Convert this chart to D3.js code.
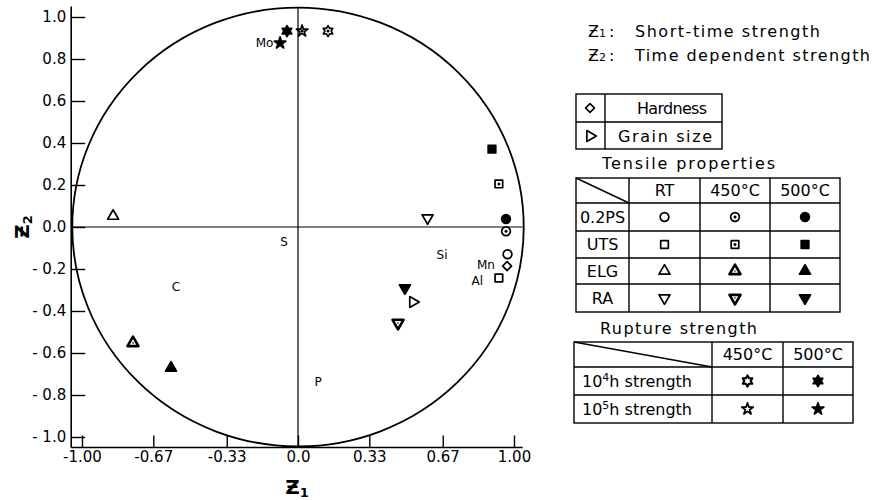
<!DOCTYPE html>
<html>
<head>
<meta charset="utf-8">
<script src="https://cdn.jsdelivr.net/npm/d3@7"></script>
<style>
  body { margin: 0; background: #fff; }
  svg { display: block; font-family: "DejaVu Sans", "Liberation Sans", sans-serif; }
</style>
</head>
<body>
<svg id="chart" width="881" height="500"></svg>
<script>
// tensile points: [property, temperature, z1, z2]
const tensilePts = [
    ["0.2PS", "RT", 0.97, -0.13],
    ["0.2PS", "450", 0.963, -0.02],
    ["0.2PS", "500", 0.963, 0.038],
    ["UTS", "RT", 0.93, -0.243],
    ["UTS", "450", 0.93, 0.205],
    ["UTS", "500", 0.898, 0.371],
    ["ELG", "RT", -0.856, 0.052],
    ["ELG", "450", -0.764, -0.552],
    ["ELG", "500", -0.588, -0.671],
    ["RA", "RT", 0.60, 0.043],
    ["RA", "450", 0.463, -0.457],
    ["RA", "500", 0.495, -0.29]
];
// rupture points: [hours, temperature, z1, z2]
const rupturePts = [
    ["1e4", "450", 0.139, 0.933],
    ["1e4", "500", -0.051, 0.933],
    ["1e5", "450", 0.019, 0.933],
    ["1e5", "500", -0.083, 0.876]
];
// other properties: [name, z1, z2]
const otherPts = [
    ["Hardness", 0.968, -0.186],
    ["Grain size", 0.532, -0.357]
];
// alloying element labels
const elements = ["Mo", "Si", "Mn", "Al", "S", "C", "P"];
const elemZ1 = [-0.155, 0.667, 0.87, 0.83, -0.065, -0.565, 0.093];
const elemZ2 = [0.876, -0.133, -0.18, -0.258, -0.071, -0.286, -0.738];

const xTicks = [-1, -0.67, -0.33, 0, 0.33, 0.67, 1];
const xTickLabels = ["-1.00", "-0.67", "-0.33", "0.0", "0.33", "0.67", "1.00"];
const yTicks = [1, 0.8, 0.6, 0.4, 0.2, 0, -0.2, -0.4, -0.6, -0.8, -1];
const yTickLabels = ["1.0", "0.8", "0.6", "0.4", "0.2", "0.0", "- 0.2", "- 0.4", "- 0.6", "- 0.8", "- 1.0"];

const tensileRows = ["0.2PS", "UTS", "ELG", "RA"];
const tensileCols = ["RT", "450°C", "500°C"];
const ruptureCols = ["450°C", "500°C"];

const rowShape = { "0.2PS": "circle", "UTS": "square", "ELG": "triangle", "RA": "triangleDown" };
const tempStyle = { "RT": "open", "450": "dot", "500": "filled" };

const svg = d3.select("#chart");

const x = d3.scaleLinear().domain([-1, 1]).range([82, 514]);
const y = d3.scaleLinear().domain([-1, 1]).range([437, 17]);

// hexagram path (six pointed star)
function hexagram(R) {
    const r = R / Math.sqrt(3);
    let pts = [];
    for (let i = 0; i < 12; i++) {
        const a = -Math.PI / 2 + i * Math.PI / 6;
        const rr = i % 2 === 0 ? R : r;
        pts.push([rr * Math.cos(a), rr * Math.sin(a)]);
    }
    return "M" + pts.map(p => p[0].toFixed(2) + "," + p[1].toFixed(2)).join("L") + "Z";
}

function drawSym(g, shape, style, cx, cy) {
    let d, rot = 0;
    if (shape === "circle") d = d3.symbol(d3.symbolCircle, 60)();
    else if (shape === "square") d = d3.symbol(d3.symbolSquare, 58)();
    else if (shape === "diamond") { d = d3.symbol(d3.symbolSquare, 40)(); rot = 45; }
    else if (shape === "triangle") d = d3.symbol(d3.symbolTriangle, 52)();
    else if (shape === "triangleDown") { d = d3.symbol(d3.symbolTriangle, 52)(); rot = 180; }
    else if (shape === "triangleRight") { d = d3.symbol(d3.symbolTriangle, 52)(); rot = 90; }
    else if (shape === "star") d = d3.symbol(d3.symbolStar, 42)();
    else if (shape === "hexagram") d = hexagram(5.5);

    const s = g.append("g").attr("transform", `translate(${cx},${cy}) rotate(${rot})`);
    let sw = 1.7;
    if (style === "dot" && shape.startsWith("triangle")) sw = 2.6;
    if (shape === "hexagram" && style === "open") sw = 2.2;
    s.append("path")
        .attr("d", d)
        .attr("fill", style === "filled" ? "#000" : "#fff")
        .attr("stroke", "#000")
        .attr("stroke-width", sw)
        .attr("stroke-linejoin", "round");
    if (style === "dot") {
        s.append("circle").attr("r", shape.startsWith("triangle") ? 0.8 : 1.5).attr("fill", "#000");
    }
}

// ---- plot frame
const plot = svg.append("g");

plot.append("line")
    .attr("x1", x(-1.05)).attr("x2", x(-1.05))
    .attr("y1", y(1.05)).attr("y2", y(-1.05))
    .attr("stroke", "#000").attr("stroke-width", 1.6);
plot.append("line")
    .attr("x1", x(-1.05)).attr("x2", x(1.04))
    .attr("y1", y(-1.05)).attr("y2", y(-1.05))
    .attr("stroke", "#000").attr("stroke-width", 1.6);

// y axis (ticks pointing inwards)
const yAxis = plot.append("g")
    .attr("transform", `translate(${x(-1.05)},0)`)
    .call(d3.axisLeft(y).tickValues(yTicks).tickSize(-14).tickPadding(5)
        .tickFormat((d, i) => yTickLabels[i]));
yAxis.select(".domain").remove();
yAxis.selectAll("line").attr("stroke-width", 1.4);
yAxis.selectAll("text").style("font-size", "15px").style("font-family", "DejaVu Sans").attr("fill", "#000");

// x axis
const xAxis = plot.append("g")
    .attr("transform", `translate(0,${y(-1.05)})`)
    .call(d3.axisBottom(x).tickValues(xTicks).tickSize(-12).tickPadding(4)
        .tickFormat((d, i) => xTickLabels[i]));
xAxis.select(".domain").remove();
xAxis.selectAll("line").attr("stroke-width", 1.4);
xAxis.selectAll("text").style("font-size", "15px").style("font-family", "DejaVu Sans").attr("fill", "#000");

// unit circle
const R = 1.045;
plot.append("ellipse")
    .attr("cx", x(0)).attr("cy", y(0))
    .attr("rx", x(R) - x(0)).attr("ry", y(0) - y(R))
    .attr("fill", "none").attr("stroke", "#000").attr("stroke-width", 1.8);

// cross lines
plot.append("line")
    .attr("x1", x(-1.05)).attr("x2", x(1.04))
    .attr("y1", y(0)).attr("y2", y(0))
    .attr("stroke", "#000").attr("stroke-width", 1.2);
plot.append("line")
    .attr("x1", x(0)).attr("x2", x(0))
    .attr("y1", y(R)).attr("y2", y(-1.05))
    .attr("stroke", "#000").attr("stroke-width", 1.2);

// axis titles
const zx = plot.append("text")
    .attr("x", x(0) - 1).attr("y", 494)
    .attr("text-anchor", "middle")
    .style("font-size", "20px").style("font-weight", "bold");
zx.append("tspan").text("Ƶ");
zx.append("tspan").attr("dy", 3).style("font-size", "13px").text("1");

const zy = plot.append("text")
    .attr("transform", `translate(29,${y(0)}) rotate(-90)`)
    .attr("text-anchor", "middle")
    .style("font-size", "20px").style("font-weight", "bold");
zy.append("tspan").text("Ƶ");
zy.append("tspan").attr("dy", 3).style("font-size", "13px").text("2");

// data points
tensilePts.forEach(p => drawSym(plot, rowShape[p[0]], tempStyle[p[1]], x(p[2]), y(p[3])));
rupturePts.forEach(p => drawSym(plot, p[0] === "1e4" ? "hexagram" : "star", tempStyle[p[1]], x(p[2]), y(p[3])));
otherPts.forEach(p => drawSym(plot, p[0] === "Hardness" ? "diamond" : "triangleRight", "open", x(p[1]), y(p[2])));

// element labels
elements.forEach((e, i) => {
    plot.append("text")
        .attr("x", x(elemZ1[i])).attr("y", y(elemZ2[i]))
        .attr("text-anchor", "middle")
        .attr("dominant-baseline", "central")
        .style("font-size", "12px")
        .text(e);
});

// ---- legend
const leg = svg.append("g").style("font-size", "16px");

function wideText(xx, yy, str, len) {
    return leg.append("text").attr("x", xx).attr("y", yy)
        .attr("textLength", len).attr("lengthAdjust", "spacing").text(str);
}

function zLine(sub, label, yy, len) {
    const t = leg.append("text").attr("x", 588).attr("y", yy);
    t.append("tspan").style("font-size", "16px").text("Ƶ");
    t.append("tspan").style("font-size", "11px").text(sub);
    leg.append("text").attr("x", 609).attr("y", yy).text(":");
    wideText(635, yy, label, len);
}
zLine("1", "Short-time strength", 37, 185);
zLine("2", "Time dependent strength", 61, 235);

function cellLines(xs, ys) {
    const g = leg.append("g").attr("stroke", "#000").attr("stroke-width", 1.4).attr("fill", "none");
    g.append("rect").attr("x", xs[0]).attr("y", ys[0])
        .attr("width", xs[xs.length - 1] - xs[0]).attr("height", ys[ys.length - 1] - ys[0]);
    xs.slice(1, -1).forEach(v => g.append("line").attr("x1", v).attr("x2", v).attr("y1", ys[0]).attr("y2", ys[ys.length - 1]));
    ys.slice(1, -1).forEach(v => g.append("line").attr("x1", xs[0]).attr("x2", xs[xs.length - 1]).attr("y1", v).attr("y2", v));
    return g;
}

// hardness / grain size box
const hx = [576, 605, 722], hy = [94, 122, 149];
cellLines(hx, hy);
drawSym(leg, "diamond", "open", 590, 108);
drawSym(leg, "triangleRight", "open", 590, 136);
wideText(637, 114, "Hardness", 70);
wideText(618, 142, "Grain size", 94);

// tensile table
wideText(602, 169, "Tensile properties", 173);
const tx = [576, 629, 700, 770, 840], ty = [178, 203, 231, 258, 284, 312];
const tg = cellLines(tx, ty);
tg.append("line").attr("x1", tx[0]).attr("y1", ty[0]).attr("x2", tx[1]).attr("y2", ty[1]);
tensileCols.forEach((c, i) => {
    leg.append("text").attr("x", (tx[i + 1] + tx[i + 2]) / 2).attr("y", (ty[0] + ty[1]) / 2)
        .attr("text-anchor", "middle").attr("dominant-baseline", "central").text(c);
});
tensileRows.forEach((r, j) => {
    const cy = (ty[j + 1] + ty[j + 2]) / 2;
    leg.append("text").attr("x", (tx[0] + tx[1]) / 2).attr("y", cy)
        .attr("text-anchor", "middle").attr("dominant-baseline", "central").text(r);
    ["RT", "450", "500"].forEach((t, i) => {
        drawSym(leg, rowShape[r], tempStyle[t], (tx[i + 1] + tx[i + 2]) / 2, cy);
    });
});

// rupture table
wideText(600, 334, "Rupture strength", 157);
const rx = [574, 712, 783, 853], ry = [342, 367, 395, 423];
const rg = cellLines(rx, ry);
rg.append("line").attr("x1", rx[0]).attr("y1", ry[0]).attr("x2", rx[1]).attr("y2", ry[1]);
ruptureCols.forEach((c, i) => {
    leg.append("text").attr("x", (rx[i + 1] + rx[i + 2]) / 2).attr("y", (ry[0] + ry[1]) / 2)
        .attr("text-anchor", "middle").attr("dominant-baseline", "central").text(c);
});
[["4", "hexagram"], ["5", "star"]].forEach((r, j) => {
    const cy = (ry[j + 1] + ry[j + 2]) / 2;
    const t = leg.append("text").attr("x", 582).attr("y", cy + 6);
    t.append("tspan").text("10");
    t.append("tspan").attr("dy", -6).style("font-size", "11px").text(r[0]);
    t.append("tspan").attr("dy", 6).text("h strength");
    drawSym(leg, r[1], "open", (rx[1] + rx[2]) / 2, cy);
    drawSym(leg, r[1], "filled", (rx[2] + rx[3]) / 2, cy);
});
</script>
</body>
</html>
